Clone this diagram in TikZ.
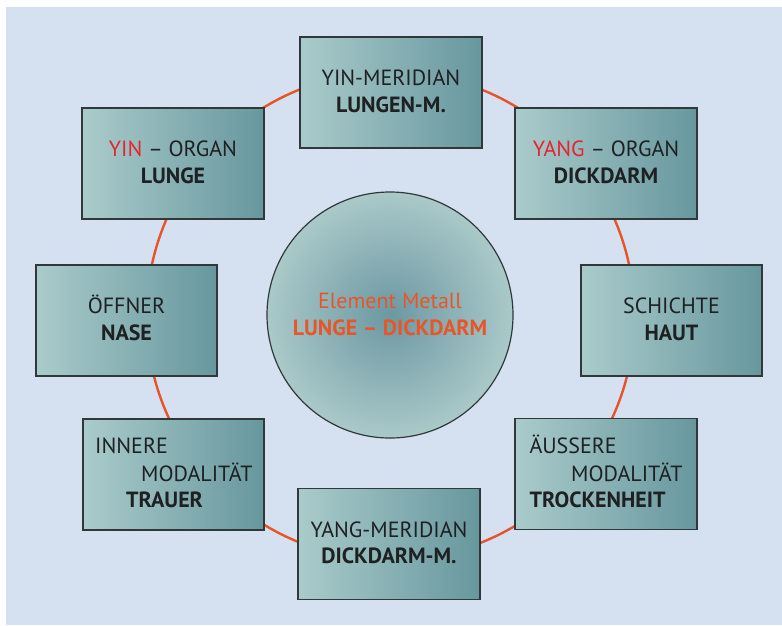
\documentclass[tikz,border=0pt]{standalone}
\usepackage{fontspec}
\setmainfont{PT Sans}
\definecolor{bgblue}{RGB}{213,224,240}
\definecolor{ringorange}{RGB}{232,84,40}
\definecolor{boxleft}{RGB}{170,203,203}
\definecolor{boxright}{RGB}{103,151,158}
\definecolor{circin}{RGB}{108,152,162}
\definecolor{circout}{RGB}{170,201,201}
\definecolor{edge}{RGB}{50,56,58}
\definecolor{txt}{RGB}{30,32,34}
\definecolor{yinred}{RGB}{228,36,48}
\definecolor{circtxt}{RGB}{232,86,40}
\tikzset{
  box/.style={draw=edge, line width=1.2pt, left color=boxleft, right color=boxright, shading angle=90,
    minimum width=182pt, minimum height=111pt, inner sep=0pt},
  lbl/.style={font=\fontsize{22}{26}\selectfont, text=txt, inner sep=0pt},
  blbl/.style={lbl, font=\fontsize{22}{26}\selectfont\bfseries},
}
\begin{document}
\begin{tikzpicture}[x=1pt,y=-1pt]
\useasboundingbox (0,0) rectangle (782,625);
\fill[bgblue] (6,7) rectangle (782,625);
\draw[ringorange, line width=2.4pt] (390.5,316) circle[radius=244];
% boxes
\node[box] (top) at (391,92.5) {};
\node[box] (yin) at (173,163.5) {};
\node[box] (yang) at (606,163.5) {};
\node[box, minimum width=181pt] (off) at (126.5,320.5) {};
\node[box, minimum width=181pt] (sch) at (671.5,320.5) {};
\node[box, minimum width=181pt] (inn) at (173.5,474.5) {};
\node[box] (aus) at (606,474) {};
\node[box] (bot) at (389,544) {};
% centre circle
\node[circle, draw=edge, line width=1.2pt, inner color=circin, outer color=circout, minimum size=246pt, inner sep=0pt] (elem) at (390,315) {};
% texts
\node[lbl, anchor=base] (t1) at (391,85.7) {YIN-MERIDIAN};
\node[blbl, anchor=base] (t2) at (391,112.3) {LUNGEN-M.};
\node[lbl, anchor=base] (y1) at (173,156.7) {\textcolor{yinred}{YIN} – ORGAN};
\node[blbl, anchor=base] (y2) at (173,183.3) {LUNGE};
\node[lbl, anchor=base] (g1) at (606,156.7) {\textcolor{yinred}{YANG} – ORGAN};
\node[blbl, anchor=base] (g2) at (606,183.3) {DICKDARM};
\node[lbl, anchor=base] (o1) at (126.5,313.7) {ÖFFNER};
\node[blbl, anchor=base] (o2) at (126.5,340.3) {NASE};
\node[lbl, anchor=base] (s1) at (671.5,313.7) {SCHICHTE};
\node[blbl, anchor=base] (s2) at (671.5,340.3) {HAUT};
\node[lbl, anchor=base west] (i1) at (95,453) {INNERE};
\node[lbl, anchor=base east] (i2) at (252.7,481) {MODALITÄT};
\node[blbl, anchor=base west] (i3) at (126,507.7) {TRAUER};
\node[lbl, anchor=base west] (a1) at (529.3,453) {ÄUSSERE};
\node[lbl, anchor=base east] (a2) at (682.7,481) {MODALITÄT};
\node[blbl, anchor=base west] (a3) at (529.3,507.7) {TROCKENHEIT};
\node[lbl, anchor=base] (b1) at (389,537.2) {YANG-MERIDIAN};
\node[blbl, anchor=base] (b2) at (389,563.8) {DICKDARM-M.};
\node[lbl, text=circtxt, anchor=base] (e1) at (390,308.3) {Element Metall};
\node[blbl, text=circtxt, anchor=base] (e2) at (390,335.7) {LUNGE – DICKDARM};
\end{tikzpicture}
\end{document}
